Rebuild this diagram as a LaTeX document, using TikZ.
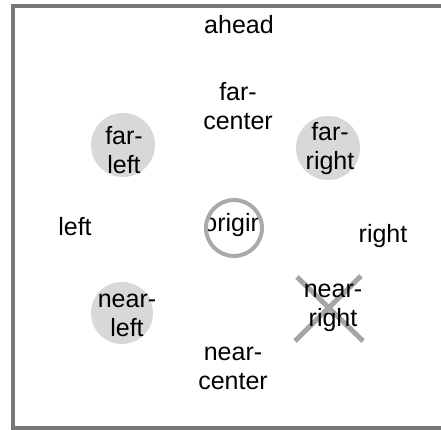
\documentclass[tikz,border=0pt]{standalone}
\usepackage{fontspec}
\setmainfont{Liberation Sans}
\definecolor{framegray}{RGB}{120,120,120}
\definecolor{fillgray}{RGB}{216,216,216}
\definecolor{ringgray}{RGB}{170,170,170}
\definecolor{crossgray}{RGB}{165,165,165}
\tikzset{
  lbl/.style={font=\fontsize{25}{29}\selectfont, align=center, inner sep=0pt, text=black},
  spot/.style={circle, fill=fillgray, minimum size=64pt, inner sep=0pt},
}
\begin{document}
\begin{tikzpicture}[x=1pt,y=-1pt]
\useasboundingbox (0,0) rectangle (441,430);
\fill[white] (0,0) rectangle (441,430);
\draw[framegray, line width=4pt] (445,6) -- (13,6) -- (13,428) -- (445,428);
% spots
\node[spot] (fl) at (123,145) {};
\node[spot] (fr) at (328,148) {};
\node[spot, minimum size=62pt] (nl) at (122,313) {};
% cross
\coordinate (x1) at (297,277);
\coordinate (x2) at (363,341);
\coordinate (x3) at (295,341);
\coordinate (x4) at (361,276);
\draw[crossgray, line width=5pt] (x1) -- (x2);
\draw[crossgray, line width=5pt] (x3) -- (x4);
% labels
\node[lbl] (ahead) at (239,25) {ahead};
\node[lbl] (fc) at (238,106) {far-\\center};
\node[lbl] (flt) at (124,150) {far-\\left};
\node[lbl] (frt) at (330,149) {far-\\right};
\node[lbl] (left) at (75,227) {left};
\node[lbl] (right) at (383,236) {right};
\node[lbl] (nlt) at (127,315) {near-\\left};
\node[lbl] (nrt) at (333,308) {near-\\right};
\node[lbl] (nc) at (233,368) {near-\\center};
% origin
\begin{scope}
\clip (234,228) circle (28);
\node[lbl] (orig) at (234,225) {origin};
\end{scope}
\node[circle, draw=ringgray, line width=4pt, minimum size=56pt, inner sep=0pt] (ring) at (234,228) {};
\end{tikzpicture}
\end{document}
